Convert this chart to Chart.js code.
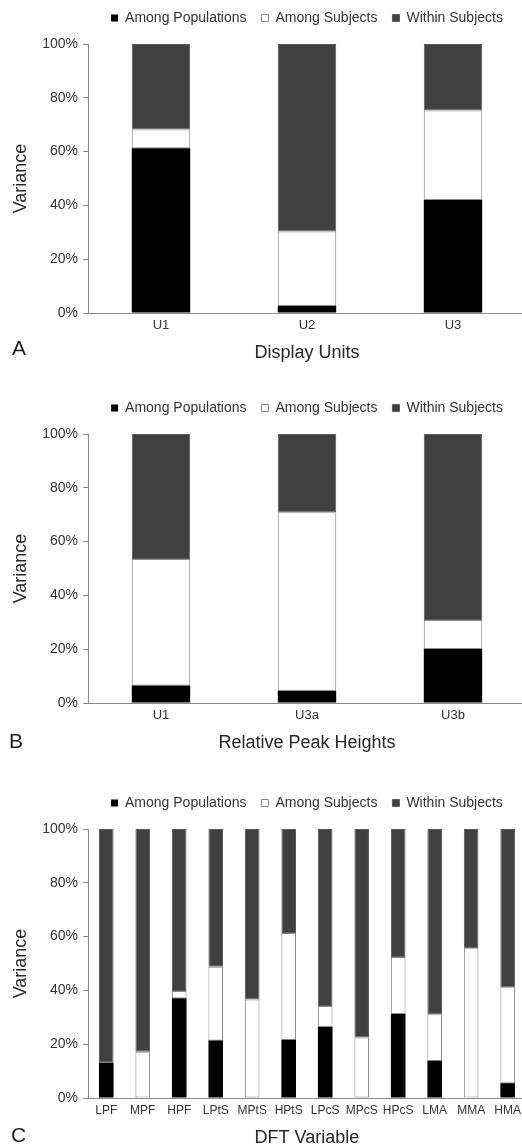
<!DOCTYPE html>
<html>
<head>
<meta charset="utf-8">
<script src="https://cdn.jsdelivr.net/npm/chart.js@4/dist/chart.umd.min.js"></script>
<style>
  html, body { margin: 0; padding: 0; background: #ffffff; }
  body { width: 522px; height: 1147px; overflow: hidden; position: relative; font-family: "Liberation Sans", Arial, sans-serif; }
  canvas { position: absolute; left: 0; }
  .panel-letter { position: absolute; font-size: 21px; line-height: 21px; color: #1f1f1f; }
</style>
</head>
<body>
<canvas id="chartA" width="526" height="368" style="top:-4px;width:526px;height:368px;"></canvas>
<canvas id="chartB" width="526" height="368" style="top:386px;width:526px;height:368px;"></canvas>
<canvas id="chartC" width="526" height="368" style="top:781px;width:526px;height:368px;"></canvas>
<div class="panel-letter" style="left:12px;top:337px;">A</div>
<div class="panel-letter" style="left:9px;top:730px;">B</div>
<div class="panel-letter" style="left:11px;top:1124px;">C</div>
<script>
// ---- Data (percent of variance) ----
const seriesNames = ['Among Populations', 'Among Subjects', 'Within Subjects'];
const yTickValues = [0, 20, 40, 60, 80, 100];

// Panel A: Display Units
const catsA = ['U1', 'U2', 'U3'];
const popA = [61.2, 2.7, 42.1];
const subjA = [7.0, 27.6, 33.2];
const withinA = [31.8, 69.7, 24.7];
const xTitleA = 'Display Units';

// Panel B: Relative Peak Heights
const catsB = ['U1', 'U3a', 'U3b'];
const popB = [6.5, 4.5, 20.1];
const subjB = [47.0, 66.4, 10.8];
const withinB = [46.5, 29.1, 69.1];
const xTitleB = 'Relative Peak Heights';

// Panel C: DFT Variable
const catsC = ['LPF', 'MPF', 'HPF', 'LPtS', 'MPtS', 'HPtS', 'LPcS', 'MPcS', 'HPcS', 'LMA', 'MMA', 'HMA'];
const popC = [13.1, 0, 37.1, 21.4, 0, 21.6, 26.4, 0, 31.2, 13.8, 0, 5.5];
const subjC = [0, 17.2, 2.7, 27.4, 36.6, 39.7, 7.8, 22.5, 21.2, 17.3, 55.7, 35.7];
const withinC = [86.9, 82.8, 60.2, 51.2, 63.4, 38.7, 65.8, 77.5, 47.6, 68.9, 44.3, 58.8];
const xTitleC = 'DFT Variable';

// ---- Styling ----
const FONT = '"Liberation Sans", Arial, sans-serif';
const TEXT = '#333333';
const AXIS = '#8a8a8a';

const legendPad = {
  id: 'legendPad',
  beforeInit(chart) {
    const fit = chart.legend.fit;
    chart.legend.fit = function () { fit.call(this); this.height += 9; };
  }
};

function makeChart(id, cats, pop, subj, within, xTitle, xTickSize) {
  return new Chart(document.getElementById(id), {
    type: 'bar',
    data: {
      labels: cats,
      datasets: [
        { label: seriesNames[0], data: pop, backgroundColor: '#000000', borderColor: '#000000', borderWidth: 0 },
        { label: seriesNames[1], data: subj, backgroundColor: '#ffffff', borderColor: '#8c8c8c', borderWidth: 1, borderSkipped: false },
        { label: seriesNames[2], data: within, backgroundColor: '#404040', borderColor: '#5a5a5a', borderWidth: 1, borderSkipped: false }
      ]
    },
    options: {
      responsive: false,
      animation: false,
      devicePixelRatio: 1,
      layout: { padding: 0 },
      datasets: { bar: { barPercentage: 0.4, categoryPercentage: 1.0 } },
      plugins: {
        tooltip: { enabled: false },
        legend: {
          position: 'top',
          align: 'center',
          fullSize: false,
          labels: {
            boxWidth: 7,
            boxHeight: 7,
            padding: 15,
            color: TEXT,
            font: { family: FONT, size: 14 }
          }
        }
      },
      scales: {
        x: {
          stacked: true,
          grid: { display: false, drawTicks: false },
          border: { display: true, color: AXIS, width: 1 },
          ticks: { color: TEXT, font: { family: FONT, size: xTickSize }, padding: 5, autoSkip: false, maxRotation: 0 },
          title: { display: true, text: xTitle, color: '#262626', font: { family: FONT, size: 18 }, padding: { top: 0, bottom: 0 } },
          afterFit(scale) { scale.height = 51; }
        },
        y: {
          stacked: true,
          min: 0,
          max: 100,
          afterBuildTicks(scale) { scale.ticks = yTickValues.map(v => ({ value: v })); },
          grid: { display: true, drawOnChartArea: false, drawTicks: true, tickLength: 5, color: AXIS },
          border: { display: true, color: AXIS, width: 1 },
          ticks: { color: TEXT, font: { family: FONT, size: 14 }, padding: 5, callback: v => v + '%' },
          title: { display: true, text: 'Variance', color: '#262626', font: { family: FONT, size: 18 }, padding: { top: 10, bottom: 0 } },
          afterFit(scale) { scale.width = 88; }
        }
      }
    },
    plugins: [legendPad]
  });
}

makeChart('chartA', catsA, popA, subjA, withinA, xTitleA, 13);
makeChart('chartB', catsB, popB, subjB, withinB, xTitleB, 13);
makeChart('chartC', catsC, popC, subjC, withinC, xTitleC, 12);
</script>
</body>
</html>
